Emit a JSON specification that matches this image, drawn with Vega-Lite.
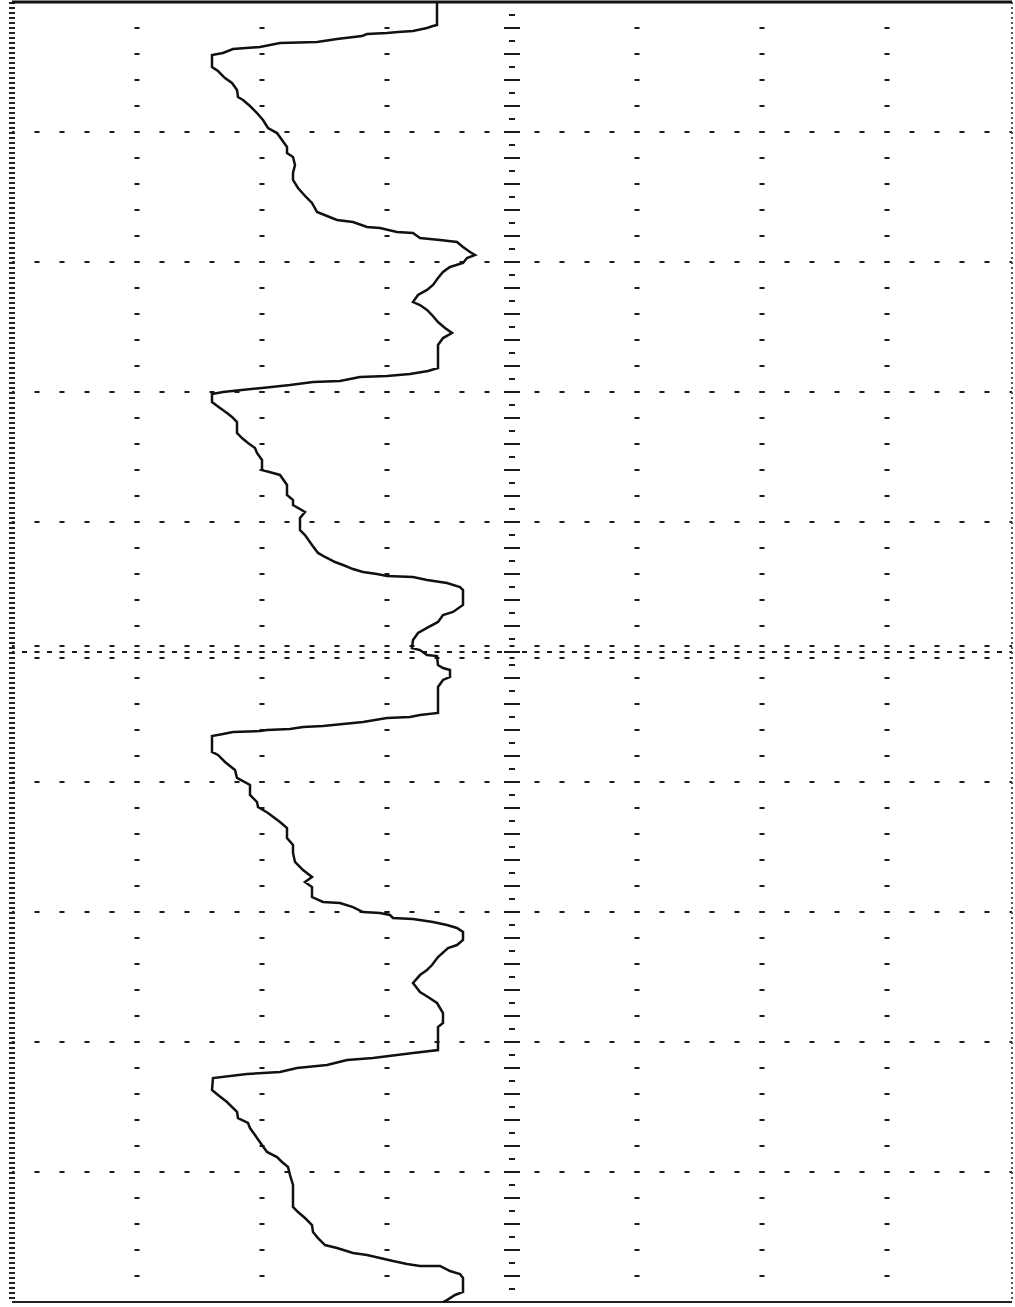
{
  "$schema": "https://vega.github.io/schema/vega-lite/v6.json",
  "autosize": "none",
  "width": 1000,
  "height": 1300,
  "padding": {"left": 12, "top": 2, "right": 3, "bottom": 5},
  "background": "white",
  "config": {"view": {"stroke": null}},
  "datasets": {
    "vgrid": [{"v": -3}, {"v": -2}, {"v": -1}, {"v": 1}, {"v": 2}, {"v": 3}],
    "hgrid": [{"t": 1}, {"t": 2}, {"t": 3}, {"t": 4}, {"t": 6}, {"t": 7}, {"t": 8}, {"t": 9}],
    "center_v": [{"v": 0}],
    "center_h": [{"t": 5}],
    "center_h_ticks": [{"t": 4.954}, {"t": 5.046}],
    "trace": [
      {"i":1,"v":-0.60,"t":0.000},{"i":2,"v":-0.60,"t":0.177},{"i":3,"v":-0.632,"t":0.185},{"i":4,"v":-0.68,"t":0.200},
      {"i":5,"v":-0.792,"t":0.223},{"i":6,"v":-0.912,"t":0.231},{"i":7,"v":-1.00,"t":0.238},{"i":8,"v":-1.16,"t":0.246},
      {"i":9,"v":-1.20,"t":0.262},{"i":10,"v":-1.40,"t":0.285},{"i":11,"v":-1.56,"t":0.308},{"i":12,"v":-1.856,"t":0.315},
      {"i":13,"v":-2.016,"t":0.346},{"i":14,"v":-2.232,"t":0.362},{"i":15,"v":-2.312,"t":0.392},{"i":16,"v":-2.40,"t":0.408},
      {"i":17,"v":-2.40,"t":0.500},{"i":18,"v":-2.352,"t":0.531},{"i":19,"v":-2.296,"t":0.585},{"i":20,"v":-2.24,"t":0.623},
      {"i":21,"v":-2.20,"t":0.677},{"i":22,"v":-2.192,"t":0.731},{"i":23,"v":-2.152,"t":0.754},{"i":24,"v":-2.096,"t":0.800},
      {"i":25,"v":-2.04,"t":0.854},{"i":26,"v":-1.992,"t":0.908},{"i":27,"v":-1.952,"t":0.969},{"i":28,"v":-1.88,"t":1.008},
      {"i":29,"v":-1.84,"t":1.062},{"i":30,"v":-1.80,"t":1.115},{"i":31,"v":-1.80,"t":1.162},{"i":32,"v":-1.752,"t":1.192},
      {"i":33,"v":-1.736,"t":1.254},{"i":34,"v":-1.752,"t":1.315},{"i":35,"v":-1.752,"t":1.369},{"i":36,"v":-1.712,"t":1.431},
      {"i":37,"v":-1.648,"t":1.500},{"i":38,"v":-1.60,"t":1.546},{"i":39,"v":-1.56,"t":1.615},{"i":40,"v":-1.48,"t":1.646},
      {"i":41,"v":-1.40,"t":1.677},{"i":42,"v":-1.272,"t":1.692},{"i":43,"v":-1.16,"t":1.731},{"i":44,"v":-1.056,"t":1.738},
      {"i":45,"v":-0.92,"t":1.769},{"i":46,"v":-0.792,"t":1.777},{"i":47,"v":-0.736,"t":1.815},{"i":48,"v":-0.576,"t":1.831},
      {"i":49,"v":-0.44,"t":1.846},{"i":50,"v":-0.392,"t":1.885},{"i":51,"v":-0.336,"t":1.923},{"i":52,"v":-0.296,"t":1.946},
      {"i":53,"v":-0.36,"t":1.969},{"i":54,"v":-0.392,"t":2.008},{"i":55,"v":-0.496,"t":2.038},{"i":56,"v":-0.552,"t":2.077},
      {"i":57,"v":-0.592,"t":2.123},{"i":58,"v":-0.632,"t":2.177},{"i":59,"v":-0.68,"t":2.215},{"i":60,"v":-0.752,"t":2.254},
      {"i":61,"v":-0.792,"t":2.308},{"i":62,"v":-0.736,"t":2.331},{"i":63,"v":-0.68,"t":2.369},{"i":64,"v":-0.64,"t":2.408},
      {"i":65,"v":-0.592,"t":2.462},{"i":66,"v":-0.536,"t":2.508},{"i":67,"v":-0.48,"t":2.546},{"i":68,"v":-0.552,"t":2.585},
      {"i":69,"v":-0.592,"t":2.638},{"i":70,"v":-0.592,"t":2.815},{"i":71,"v":-0.672,"t":2.838},{"i":72,"v":-0.816,"t":2.862},
      {"i":73,"v":-1.00,"t":2.877},{"i":74,"v":-1.216,"t":2.885},{"i":75,"v":-1.376,"t":2.915},{"i":76,"v":-1.592,"t":2.923},
      {"i":77,"v":-1.776,"t":2.946},{"i":78,"v":-2.00,"t":2.969},{"i":79,"v":-2.312,"t":3.000},{"i":80,"v":-2.40,"t":3.015},
      {"i":81,"v":-2.40,"t":3.077},{"i":82,"v":-2.336,"t":3.123},{"i":83,"v":-2.28,"t":3.162},{"i":84,"v":-2.24,"t":3.192},
      {"i":85,"v":-2.20,"t":3.231},{"i":86,"v":-2.20,"t":3.315},{"i":87,"v":-2.16,"t":3.354},{"i":88,"v":-2.112,"t":3.392},
      {"i":89,"v":-2.056,"t":3.431},{"i":90,"v":-2.04,"t":3.469},{"i":91,"v":-2.00,"t":3.523},{"i":92,"v":-2.00,"t":3.600},
      {"i":93,"v":-1.912,"t":3.623},{"i":94,"v":-1.856,"t":3.638},{"i":95,"v":-1.80,"t":3.715},{"i":96,"v":-1.80,"t":3.792},
      {"i":97,"v":-1.752,"t":3.831},{"i":98,"v":-1.752,"t":3.869},{"i":99,"v":-1.656,"t":3.923},{"i":100,"v":-1.696,"t":3.969},
      {"i":101,"v":-1.696,"t":4.062},{"i":102,"v":-1.656,"t":4.100},{"i":103,"v":-1.60,"t":4.177},{"i":104,"v":-1.552,"t":4.238},
      {"i":105,"v":-1.496,"t":4.269},{"i":106,"v":-1.416,"t":4.308},{"i":107,"v":-1.352,"t":4.331},{"i":108,"v":-1.272,"t":4.362},
      {"i":109,"v":-1.192,"t":4.385},{"i":110,"v":-1.08,"t":4.400},{"i":111,"v":-1.00,"t":4.415},{"i":112,"v":-0.792,"t":4.423},
      {"i":113,"v":-0.68,"t":4.446},{"i":114,"v":-0.52,"t":4.469},{"i":115,"v":-0.416,"t":4.500},{"i":116,"v":-0.392,"t":4.523},
      {"i":117,"v":-0.392,"t":4.638},{"i":118,"v":-0.472,"t":4.692},{"i":119,"v":-0.552,"t":4.715},{"i":120,"v":-0.592,"t":4.769},
      {"i":121,"v":-0.68,"t":4.815},{"i":122,"v":-0.752,"t":4.854},{"i":123,"v":-0.792,"t":4.908},{"i":124,"v":-0.80,"t":4.969},
      {"i":125,"v":-0.736,"t":4.985},{"i":126,"v":-0.68,"t":5.023},{"i":127,"v":-0.60,"t":5.031},{"i":128,"v":-0.592,"t":5.100},
      {"i":129,"v":-0.552,"t":5.123},{"i":130,"v":-0.496,"t":5.138},{"i":131,"v":-0.496,"t":5.192},{"i":132,"v":-0.552,"t":5.215},
      {"i":133,"v":-0.592,"t":5.269},{"i":134,"v":-0.592,"t":5.469},{"i":135,"v":-0.736,"t":5.485},{"i":136,"v":-0.816,"t":5.500},
      {"i":137,"v":-1.00,"t":5.508},{"i":138,"v":-1.192,"t":5.538},{"i":139,"v":-1.352,"t":5.554},{"i":140,"v":-1.512,"t":5.569},
      {"i":141,"v":-1.672,"t":5.577},{"i":142,"v":-1.776,"t":5.592},{"i":143,"v":-1.96,"t":5.600},{"i":144,"v":-2.016,"t":5.608},
      {"i":145,"v":-2.232,"t":5.615},{"i":146,"v":-2.312,"t":5.631},{"i":147,"v":-2.40,"t":5.646},{"i":148,"v":-2.40,"t":5.769},
      {"i":149,"v":-2.352,"t":5.792},{"i":150,"v":-2.296,"t":5.846},{"i":151,"v":-2.216,"t":5.908},{"i":152,"v":-2.20,"t":5.969},
      {"i":153,"v":-2.096,"t":6.023},{"i":154,"v":-2.096,"t":6.100},{"i":155,"v":-2.04,"t":6.154},{"i":156,"v":-2.032,"t":6.192},
      {"i":157,"v":-1.952,"t":6.238},{"i":158,"v":-1.856,"t":6.308},{"i":159,"v":-1.80,"t":6.354},{"i":160,"v":-1.80,"t":6.431},
      {"i":161,"v":-1.752,"t":6.485},{"i":162,"v":-1.752,"t":6.546},{"i":163,"v":-1.736,"t":6.615},{"i":164,"v":-1.672,"t":6.677},
      {"i":165,"v":-1.60,"t":6.731},{"i":166,"v":-1.656,"t":6.769},{"i":167,"v":-1.60,"t":6.808},{"i":168,"v":-1.60,"t":6.885},
      {"i":169,"v":-1.512,"t":6.923},{"i":170,"v":-1.376,"t":6.931},{"i":171,"v":-1.272,"t":6.962},{"i":172,"v":-1.192,"t":7.000},
      {"i":173,"v":-1.056,"t":7.008},{"i":174,"v":-0.976,"t":7.023},{"i":175,"v":-0.952,"t":7.046},{"i":176,"v":-0.792,"t":7.054},
      {"i":177,"v":-0.632,"t":7.077},{"i":178,"v":-0.52,"t":7.100},{"i":179,"v":-0.44,"t":7.123},{"i":180,"v":-0.392,"t":7.154},
      {"i":181,"v":-0.392,"t":7.215},{"i":182,"v":-0.44,"t":7.254},{"i":183,"v":-0.512,"t":7.277},{"i":184,"v":-0.592,"t":7.346},
      {"i":185,"v":-0.64,"t":7.408},{"i":186,"v":-0.68,"t":7.446},{"i":187,"v":-0.736,"t":7.485},{"i":188,"v":-0.792,"t":7.546},
      {"i":189,"v":-0.736,"t":7.615},{"i":190,"v":-0.672,"t":7.654},{"i":191,"v":-0.60,"t":7.700},{"i":192,"v":-0.552,"t":7.777},
      {"i":193,"v":-0.552,"t":7.854},{"i":194,"v":-0.592,"t":7.885},{"i":195,"v":-0.592,"t":8.062},{"i":196,"v":-0.792,"t":8.085},
      {"i":197,"v":-0.92,"t":8.100},{"i":198,"v":-1.112,"t":8.123},{"i":199,"v":-1.32,"t":8.138},{"i":200,"v":-1.48,"t":8.177},
      {"i":201,"v":-1.72,"t":8.200},{"i":202,"v":-1.856,"t":8.231},{"i":203,"v":-1.992,"t":8.238},{"i":204,"v":-2.12,"t":8.246},
      {"i":205,"v":-2.392,"t":8.277},{"i":206,"v":-2.40,"t":8.369},{"i":207,"v":-2.352,"t":8.408},{"i":208,"v":-2.28,"t":8.462},
      {"i":209,"v":-2.24,"t":8.500},{"i":210,"v":-2.20,"t":8.538},{"i":211,"v":-2.192,"t":8.585},{"i":212,"v":-2.112,"t":8.623},
      {"i":213,"v":-2.096,"t":8.662},{"i":214,"v":-2.056,"t":8.715},{"i":215,"v":-2.04,"t":8.738},{"i":216,"v":-2.00,"t":8.792},
      {"i":217,"v":-1.96,"t":8.846},{"i":218,"v":-1.88,"t":8.885},{"i":219,"v":-1.84,"t":8.923},{"i":220,"v":-1.792,"t":8.962},
      {"i":221,"v":-1.776,"t":9.023},{"i":222,"v":-1.752,"t":9.100},{"i":223,"v":-1.752,"t":9.269},{"i":224,"v":-1.712,"t":9.308},
      {"i":225,"v":-1.656,"t":9.354},{"i":226,"v":-1.60,"t":9.408},{"i":227,"v":-1.592,"t":9.462},{"i":228,"v":-1.552,"t":9.508},
      {"i":229,"v":-1.496,"t":9.562},{"i":230,"v":-1.40,"t":9.585},{"i":231,"v":-1.272,"t":9.623},{"i":232,"v":-1.16,"t":9.638},
      {"i":233,"v":-1.056,"t":9.662},{"i":234,"v":-0.952,"t":9.685},{"i":235,"v":-0.84,"t":9.708},{"i":236,"v":-0.736,"t":9.723},
      {"i":237,"v":-0.576,"t":9.723},{"i":238,"v":-0.496,"t":9.762},{"i":239,"v":-0.416,"t":9.785},{"i":240,"v":-0.392,"t":9.815},
      {"i":241,"v":-0.392,"t":9.923},{"i":242,"v":-0.456,"t":9.946},{"i":243,"v":-0.52,"t":9.985},{"i":244,"v":-0.552,"t":10.0}
    ]
  },
  "layer": [
    {
      "data": {"name": "hgrid"},
      "mark": {"type": "rule", "color": "#1a1a1a", "strokeWidth": 2, "strokeDash": [5, 20], "strokeDashOffset": 2.5},
      "encoding": {"y": {"field": "t", "type": "quantitative", "scale": {"domain": [0, 10], "reverse": true, "nice": false, "zero": false}, "axis": null}}
    },
    {
      "data": {"name": "vgrid"},
      "mark": {"type": "rule", "color": "#1a1a1a", "strokeWidth": 5, "strokeDash": [2, 24], "strokeDashOffset": 1},
      "encoding": {"x": {"field": "v", "type": "quantitative", "scale": {"domain": [-4, 4], "nice": false, "zero": false}, "axis": null}}
    },
    {
      "data": {"name": "center_h"},
      "mark": {"type": "rule", "color": "#1a1a1a", "strokeWidth": 2, "strokeDash": [5, 7.5], "strokeDashOffset": 2.5},
      "encoding": {"y": {"field": "t", "type": "quantitative"}}
    },
    {
      "data": {"name": "center_h_ticks"},
      "mark": {"type": "rule", "color": "#1a1a1a", "strokeWidth": 2, "strokeDash": [5, 20], "strokeDashOffset": 2.5},
      "encoding": {"y": {"field": "t", "type": "quantitative"}}
    },
    {
      "data": {"name": "center_v"},
      "mark": {"type": "rule", "color": "#1a1a1a", "strokeWidth": 16, "strokeDash": [2, 24], "strokeDashOffset": 1},
      "encoding": {"x": {"field": "v", "type": "quantitative"}}
    },
    {
      "data": {"name": "center_v"},
      "mark": {"type": "rule", "color": "#1a1a1a", "strokeWidth": 6, "strokeDash": [2, 11], "strokeDashOffset": 1},
      "encoding": {"x": {"field": "v", "type": "quantitative"}}
    },
    {
      "data": {"values": [{"v": -4}]},
      "mark": {"type": "rule", "color": "#222", "strokeWidth": 6, "strokeDash": [2, 3]},
      "encoding": {"x": {"field": "v", "type": "quantitative"}}
    },
    {
      "data": {"values": [{"v": 4}]},
      "mark": {"type": "rule", "color": "#555", "strokeWidth": 2, "strokeDash": [2, 3]},
      "encoding": {"x": {"field": "v", "type": "quantitative"}}
    },
    {
      "data": {"values": [{"t": 0}]},
      "mark": {"type": "rule", "color": "#111", "strokeWidth": 3},
      "encoding": {"y": {"field": "t", "type": "quantitative"}}
    },
    {
      "data": {"values": [{"t": 10}]},
      "mark": {"type": "rule", "color": "#222", "strokeWidth": 2},
      "encoding": {"y": {"field": "t", "type": "quantitative"}}
    },
    {
      "data": {"name": "trace"},
      "mark": {"type": "line", "color": "#111", "strokeWidth": 2.5, "interpolate": "linear"},
      "encoding": {
        "x": {"field": "v", "type": "quantitative"},
        "y": {"field": "t", "type": "quantitative"},
        "order": {"field": "i", "type": "quantitative"}
      }
    }
  ]
}
